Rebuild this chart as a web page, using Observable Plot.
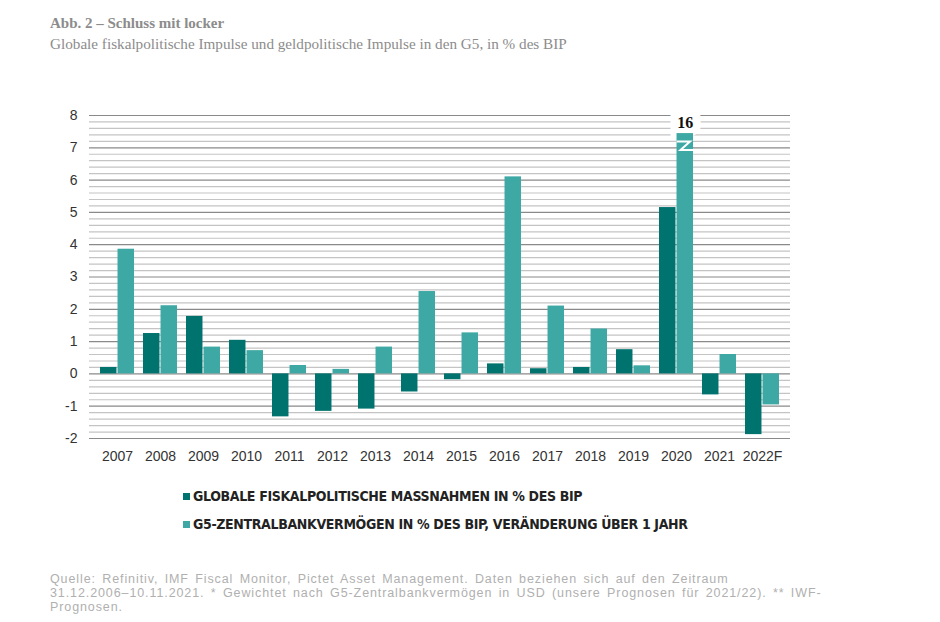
<!DOCTYPE html>
<html>
<head>
<meta charset="utf-8">
<script src="https://cdn.jsdelivr.net/npm/d3@7"></script>
<script src="https://cdn.jsdelivr.net/npm/@observablehq/plot@0.6"></script>
<style>
  html, body { margin: 0; padding: 0; background: #fff; }
  body { width: 940px; height: 622px; position: relative; overflow: hidden; }
  #head { position: absolute; left: 50px; top: 12px; font-family: "Liberation Serif", "DejaVu Serif", serif; color: #8c8c8c; }
  #head .t { font-size: 15px; font-weight: bold; line-height: 22px; }
  #head .s { font-size: 15.2px; line-height: 20px; }
  #chart { position: absolute; left: 0; top: 60px; }
  #legend { position: absolute; left: 183px; top: 482px; font-family: "Liberation Sans Narrow", "DejaVu Sans Condensed", sans-serif; font-stretch: condensed; font-weight: bold; font-size: 14px; letter-spacing: -0.35px; color: #222; }
  #legend .row { height: 28px; line-height: 20px; display: flex; align-items: center; }
  #legend .sw { width: 7px; height: 7px; margin-right: 3px; display: inline-block; }
  #caption { position: absolute; left: 50px; top: 572px; font-family: "Liberation Sans", Arial, sans-serif; font-size: 12.5px; line-height: 14px; letter-spacing: 0.9px; word-spacing: 2px; color: #b0b0b0; white-space: nowrap; }
</style>
</head>
<body>
<div id="head">
  <div class="t">Abb. 2 – Schluss mit locker</div>
  <div class="s">Globale fiskalpolitische Impulse und geldpolitische Impulse in den G5, in % des BIP</div>
</div>
<div id="chart"></div>
<div id="legend"></div>
<div id="caption">Quelle: Refinitiv, IMF Fiscal Monitor, Pictet Asset Management. Daten beziehen sich auf den Zeitraum<br>31.12.2006–10.11.2021. * Gewichtet nach G5-Zentralbankvermögen in USD (unsere Prognosen für 2021/22). ** IWF-<br>Prognosen.</div>
<script>
// ---- data ----
const years = ["2007","2008","2009","2010","2011","2012","2013","2014","2015","2016","2017","2018","2019","2020","2021","2022F"];
const fiscal = [0.2, 1.25, 1.78, 1.04, -1.33, -1.16, -1.09, -0.56, -0.18, 0.31, 0.16, 0.2, 0.75, 5.15, -0.65, -1.88];
const centralBank = [3.86, 2.11, 0.83, 0.72, 0.26, 0.14, 0.83, 2.55, 1.27, 6.1, 2.1, 1.39, 0.25, 16, 0.6, -0.96];
const seriesNames = ["GLOBALE FISKALPOLITISCHE MASSNAHMEN IN % DES BIP", "G5-ZENTRALBANKVERMÖGEN IN % DES BIP, VERÄNDERUNG ÜBER 1 JAHR"];
const seriesColors = ["#00736e", "#3ea8a4"];
const yTicks = [-2, -1, 0, 1, 2, 3, 4, 5, 6, 7, 8];
const axisCap = 7.44;        // value at which clipped bars are cut off
const breakMark = {lo: 6.92, hi: 7.18};  // axis-break symbol position

const rows = years.map((year, i) => ({year, fiscal: fiscal[i], cb: centralBank[i]}));
const minorTicks = d3.range(-2, 8.001, 0.2).map(v => +v.toFixed(1));

// ---- layout ----
const W = 940, H = 420, mL = 89, mR = 150, mT = 55, mB = 42;
const padIn = 0.2, padOut = 0.1;
const step = (W - mL - mR) / (years.length - padIn + 2 * padOut);
const bw = step * (1 - padIn);

const breakMarkFn = (index, scales) => {
  const g = d3.create("svg:g");
  rows.filter(d => d.cb > axisCap).forEach(d => {
    const left = scales.x(d.year) + bw / 2, right = scales.x(d.year) + bw;
    const top = scales.y(breakMark.hi), bot = scales.y(breakMark.lo);
    g.append("path")
      .attr("d", `M${left},${top}H${right - 4}L${left + 4},${bot}H${right}`)
      .attr("fill", "none").attr("stroke", "white").attr("stroke-width", 2);
  });
  return g.node();
};

const chart = Plot.plot({
  width: W, height: H,
  marginLeft: mL, marginRight: mR, marginTop: mT, marginBottom: mB,
  style: {fontFamily: "'Liberation Sans', Arial, sans-serif", fontSize: "14px", color: "#333", background: "transparent"},
  x: {domain: years, paddingInner: padIn, paddingOuter: padOut, align: 0.5, tickSize: 0, tickPadding: 13, label: null},
  y: {domain: [-2, 8], ticks: yTicks, tickSize: 0, tickPadding: 12, tickFormat: d => String(d), label: null},
  marks: [
    Plot.ruleY(minorTicks.filter(v => !yTicks.includes(v)), {stroke: "#c4c4c4", strokeWidth: 1.2}),
    Plot.ruleY(yTicks, {stroke: "#8a8a8a", strokeWidth: 1.2}),
    Plot.text(rows.filter(d => d.cb > axisCap), {
      x: "year", y: () => axisCap, text: d => String(d.cb), dx: bw / 4, dy: -11,
      fontFamily: "'Liberation Serif', serif", fontWeight: "bold", fontSize: 16,
      fill: "#111", stroke: "white", strokeWidth: 16, strokeLinejoin: "miter"
    }),
    Plot.barY(rows, {x: "year", y: d => Math.min(d.fiscal, axisCap), fill: seriesColors[0], insetRight: bw / 2}),
    Plot.barY(rows, {x: "year", y: d => Math.min(d.cb, axisCap), fill: seriesColors[1], insetLeft: bw / 2}),
    breakMarkFn
  ]
});
document.getElementById("chart").appendChild(chart);

// ---- legend ----
const legend = d3.select("#legend");
seriesNames.forEach((name, i) => {
  const row = legend.append("div").attr("class", "row");
  row.append("span").attr("class", "sw").style("background", seriesColors[i]);
  row.append("span").text(name);
});
</script>
</body>
</html>
